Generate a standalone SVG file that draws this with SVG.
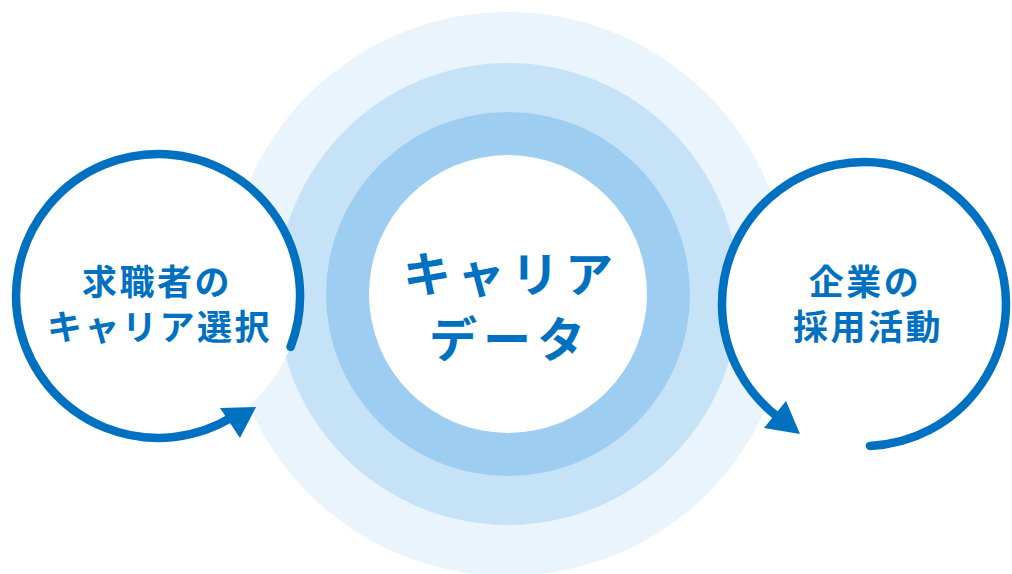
<svg xmlns="http://www.w3.org/2000/svg" width="1012" height="574" viewBox="0 0 1012 574">
  <style>
    .lbl { font-family: "Noto Sans CJK JP", "Noto Sans", sans-serif; font-weight: 700; fill: #0070c0; text-anchor: middle; }
    .side { font-size: 35px; letter-spacing: 2.5px; }
    .core { font-size: 48px; letter-spacing: 6px; }
    .arc { fill: none; stroke: #0070c0; stroke-width: 8.5; stroke-linecap: round; }
    .head { fill: #0070c0; }
    .disk { fill: #ffffff; }
  </style>
  <rect width="1012" height="574" fill="#ffffff"/>
  <g id="node-center">
    <circle cx="508" cy="294" r="282" fill="#eaf4fc"/>
    <circle cx="508" cy="294" r="231" fill="#c5e2f7"/>
    <circle cx="508" cy="294" r="182" fill="#9ecdf2"/>
    <circle cx="508" cy="294" r="139" class="disk"/>
    <text class="lbl core" x="511" y="292">キャリア</text>
    <text class="lbl core" x="510" y="357">データ</text>
  </g>
  <g id="node-left">
    <circle cx="158" cy="296" r="142" class="disk"/>
    <text class="lbl side" x="157" y="295">求職者の</text>
    <text class="lbl side" x="159.5" y="340">キャリア選択</text>
  </g>
  <g id="node-right">
    <circle cx="864" cy="304" r="142" class="disk"/>
    <text class="lbl side" x="865" y="295">企業の</text>
    <text class="lbl side" x="868" y="340">採用活動</text>
  </g>
  <g id="connectors">
    <path class="arc" d="M 290.6 346.9 A 142 142 0 1 0 233.2 416.4"/>
    <polygon class="head" points="220,408 256,407 240,438"/>
    <path class="arc" d="M 869.9 445.9 A 142 142 0 1 0 780.5 418.9"/>
    <polygon class="head" points="786,401 764,428 800,434"/>
  </g>
</svg>
